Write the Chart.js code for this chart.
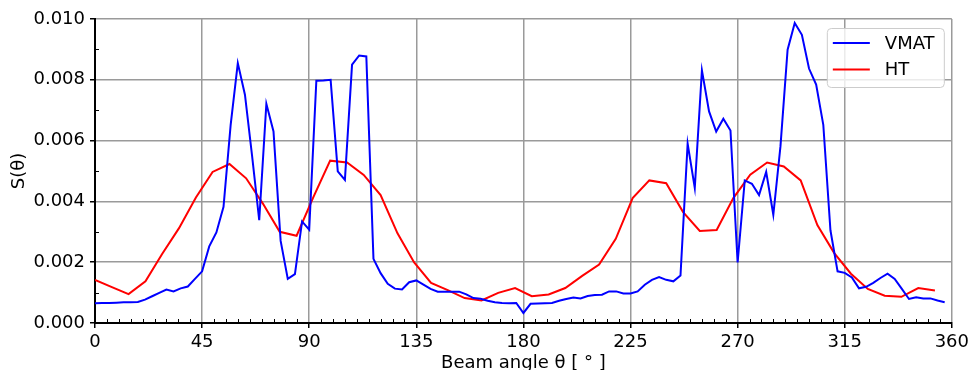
<!DOCTYPE html>
<html>
<head>
<meta charset="utf-8">
<script src="https://cdn.jsdelivr.net/npm/chart.js@4.4.1/dist/chart.umd.min.js"></script>
<style>
    body {
        margin: 0;
        background: #ffffff;
    }

    #wrap {
        width: 973px;
        height: 370px;
    }
</style>
</head>
<body>
<div id="wrap"><canvas id="chart" width="973" height="370"></canvas></div>
<script>
// VMAT: one value every 3 degrees
const vmatAngles = [
    0, 3, 6, 9, 12, 15, 18, 21, 24, 27,
    30, 33, 36, 39, 42, 45, 48, 51, 54, 57,
    60, 63, 66, 69, 72, 75, 78, 81, 84, 87,
    90, 93, 96, 99, 102, 105, 108, 111, 114, 117,
    120, 123, 126, 129, 132, 135, 138, 141, 144, 147,
    150, 153, 156, 159, 162, 165, 168, 171, 174, 177,
    180, 183, 186, 189, 192, 195, 198, 201, 204, 207,
    210, 213, 216, 219, 222, 225, 228, 231, 234, 237,
    240, 243, 246, 249, 252, 255, 258, 261, 264, 267,
    270, 273, 276, 279, 282, 285, 288, 291, 294, 297,
    300, 303, 306, 309, 312, 315, 318, 321, 324, 327,
    330, 333, 336, 339, 342, 345, 348, 351, 354, 357
]
const vmatValues = [
    0.00065, 0.00066, 0.00066, 0.00067, 0.00068, 0.00068, 0.00069, 0.00077, 0.00088, 0.00099,
    0.00110, 0.00104, 0.00114, 0.00120, 0.00145, 0.00170, 0.00252, 0.00298, 0.00382, 0.00652,
    0.00855, 0.00751, 0.00550, 0.00338, 0.00721, 0.00630, 0.00270, 0.00145, 0.00161, 0.00334,
    0.00307, 0.00797, 0.00798, 0.00800, 0.00499, 0.00471, 0.00850, 0.00880, 0.00877, 0.00211,
    0.00164, 0.00129, 0.00113, 0.00110, 0.00134, 0.00140, 0.00126, 0.00112, 0.00103, 0.00103,
    0.00103, 0.00103, 0.00094, 0.00082, 0.00080, 0.00073, 0.00068, 0.00066, 0.00065, 0.00066,
    0.00033, 0.00063, 0.00064, 0.00065, 0.00066, 0.00073, 0.00079, 0.00084, 0.00081, 0.00089,
    0.00092, 0.00093, 0.00104, 0.00104, 0.00097, 0.00097, 0.00104, 0.00126, 0.00142, 0.00151,
    0.00142, 0.00137, 0.00156, 0.00590, 0.00444, 0.00831, 0.00696, 0.00630, 0.00672, 0.00633,
    0.00199, 0.00469, 0.00458, 0.00421, 0.00497, 0.00356, 0.00581, 0.00899, 0.00987, 0.00948,
    0.00837, 0.00784, 0.00652, 0.00305, 0.00170, 0.00165, 0.00150, 0.00114, 0.00119, 0.00132,
    0.00148, 0.00162, 0.00145, 0.00112, 0.00079, 0.00085, 0.00081, 0.00081, 0.00074, 0.00068
]

// HT: 51 projections per turn
const htAngles = [
    0, 7.1, 14.1, 21.2, 28.2, 35.3, 42.4, 49.4, 56.5, 63.5,
    70.6, 77.6, 84.7, 91.8, 98.8, 105.9, 112.9, 120, 127.1, 134.1,
    141.2, 148.2, 155.3, 162.4, 169.4, 176.5, 183.5, 190.6, 197.6, 204.7,
    211.8, 218.8, 225.9, 232.9, 240, 247.1, 254.1, 261.2, 268.2, 275.3,
    282.4, 289.4, 296.5, 303.5, 310.6, 317.6, 324.7, 331.8, 338.8, 345.9,
    352.9
]
const htValues = [
    0.00142, 0.00118, 0.00095, 0.00137, 0.00227, 0.00312, 0.00413, 0.00497, 0.00523, 0.00476,
    0.00392, 0.00300, 0.00287, 0.00415, 0.00534, 0.00528, 0.00487, 0.00421, 0.00295, 0.00199,
    0.00132, 0.00108, 0.00082, 0.00074, 0.00099, 0.00115, 0.00088, 0.00094, 0.00115, 0.00155,
    0.00192, 0.00277, 0.00411, 0.00469, 0.00460, 0.00365, 0.00303, 0.00306, 0.00411, 0.00488,
    0.00528, 0.00515, 0.00469, 0.00322, 0.00230, 0.00162, 0.00112, 0.00090, 0.00086, 0.00115,
    0.00107
]

const seriesNames = ['VMAT', 'HT']
const seriesColors = ['#0000ff', '#ff0000']

const xMin = 0
const xMax = 360
const xStep = 45
const xMinorStep = 5
const yMin = 0
const yMax = 0.010
const yStep = 0.002
const yMinorStep = 0.001

const toPoints = (xs, ys) => xs.map((x, i) => ({ x: x, y: ys[i] }))

Chart.defaults.font.family = "'DejaVu Sans', sans-serif"
Chart.defaults.font.size = 18
Chart.defaults.color = '#000000'

// minor ticks, drawn inward on the left and bottom spines
const minorTicks = {
    id: 'minorTicks',
    afterDatasetsDraw(chart) {
        const { ctx, chartArea, scales } = chart
        ctx.save()
        ctx.strokeStyle = '#000000'
        ctx.lineWidth = 1
        ctx.beginPath()
        for (let v = xMin + xMinorStep; v < xMax; v += xMinorStep) {
            if (v % xStep === 0) continue
            const px = Math.round(scales.x.getPixelForValue(v)) + 0.5
            ctx.moveTo(px, chartArea.bottom)
            ctx.lineTo(px, chartArea.bottom - 4)
        }
        for (let i = 1; i < Math.round((yMax - yMin) / yMinorStep); i += 2) {
            const py = Math.round(scales.y.getPixelForValue(yMin + i * yMinorStep)) + 0.5
            ctx.moveTo(chartArea.left, py)
            ctx.lineTo(chartArea.left + 4, py)
        }
        ctx.stroke()
        ctx.restore()
    }
}

// matplotlib-like legend box in the upper right corner
const boxLegend = {
    id: 'boxLegend',
    afterDraw(chart) {
        const { ctx, chartArea } = chart
        const w = 117
        const h = 59
        const x0 = chartArea.right - 8 - w
        const y0 = chartArea.top + 9
        ctx.save()
        ctx.beginPath()
        ctx.roundRect(x0 + 0.5, y0 + 0.5, w, h, 4)
        ctx.fillStyle = 'rgba(255,255,255,0.8)'
        ctx.fill()
        ctx.strokeStyle = '#cccccc'
        ctx.lineWidth = 1
        ctx.stroke()
        ctx.font = "18px 'DejaVu Sans'"
        ctx.textBaseline = 'middle'
        ctx.textAlign = 'left'
        seriesNames.forEach((name, i) => {
            const ly = y0 + 15 + i * 26.5
            ctx.beginPath()
            ctx.strokeStyle = seriesColors[i]
            ctx.lineWidth = 2
            ctx.moveTo(x0 + 6, ly)
            ctx.lineTo(x0 + 43, ly)
            ctx.stroke()
            ctx.fillStyle = '#000000'
            ctx.fillText(name, x0 + 58, ly + 1)
        })
        ctx.restore()
    }
}

new Chart(document.getElementById('chart'), {
    type: 'line',
    data: {
        datasets: [
            {
                label: seriesNames[0],
                data: toPoints(vmatAngles, vmatValues),
                borderColor: seriesColors[0],
                borderWidth: 2,
                pointRadius: 0,
                tension: 0,
                fill: false
            },
            {
                label: seriesNames[1],
                data: toPoints(htAngles, htValues),
                borderColor: seriesColors[1],
                borderWidth: 2,
                pointRadius: 0,
                tension: 0,
                fill: false
            }
        ]
    },
    options: {
        responsive: false,
        devicePixelRatio: 1,
        animation: false,
        layout: {
            padding: { left: 0, top: 19, right: 18, bottom: 0 }
        },
        plugins: {
            legend: { display: false },
            tooltip: { enabled: false }
        },
        scales: {
            x: {
                type: 'linear',
                min: xMin,
                max: xMax,
                afterFit: (scale) => { scale.height = 47 },
                ticks: {
                    stepSize: xStep,
                    padding: 4,
                    maxRotation: 0,
                    color: '#000000',
                    font: { size: 18 }
                },
                grid: {
                    color: '#9a9a9a',
                    lineWidth: 1.5,
                    tickLength: 5,
                    tickColor: '#000000',
                    tickWidth: 1.5
                },
                border: { color: '#000000', width: 2 },
                title: {
                    display: true,
                    text: 'Beam angle θ [ ° ]',
                    font: { size: 18, lineHeight: 1 },
                    padding: { top: 0, bottom: -2 }
                }
            },
            y: {
                min: yMin,
                max: yMax,
                afterFit: (scale) => { scale.width = 95 },
                ticks: {
                    stepSize: yStep,
                    padding: 5,
                    color: '#000000',
                    font: { size: 18 },
                    callback: (value) => value.toFixed(3)
                },
                grid: {
                    color: '#9a9a9a',
                    lineWidth: 1.5,
                    tickLength: 5,
                    tickColor: '#000000',
                    tickWidth: 1.5
                },
                border: { color: '#000000', width: 2 },
                title: {
                    display: true,
                    text: 'S(θ)',
                    font: { size: 18 },
                    padding: { top: 9, bottom: 0 }
                }
            }
        }
    },
    plugins: [minorTicks, boxLegend]
})
</script>
</body>
</html>
